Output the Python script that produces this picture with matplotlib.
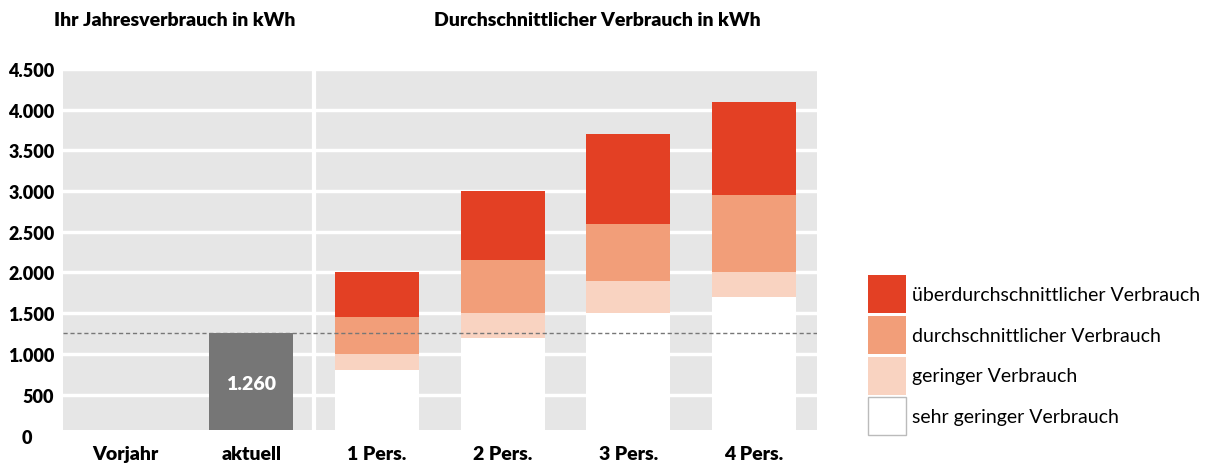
import numpy as np
import matplotlib
matplotlib.use("Agg")
import matplotlib.pyplot as plt
from matplotlib.patches import Patch

plt.rcParams['font.family'] = ['Lato', 'DejaVu Sans']

kategorien = ["Vorjahr", "aktuell", "1 Pers.", "2 Pers.", "3 Pers.", "4 Pers."]
ihr_verbrauch = [0, 1260]          # Vorjahr (leer), aktuell
# Obergrenzen der Stufen je Haushaltsgroesse (kumuliert, kWh)
sehr_gering = [800, 1200, 1500, 1700]
gering = [1000, 1500, 1900, 2000]
durchschnitt = [1450, 2150, 2600, 2950]
ueber = [2000, 3000, 3700, 4100]
stufen_namen = ["überdurchschnittlicher Verbrauch", "durchschnittlicher Verbrauch",
                "geringer Verbrauch", "sehr geringer Verbrauch"]
yticks = [500, 1000, 1500, 2000, 2500, 3000, 3500, 4000, 4500]

rot = "#E34024"
orange = "#F29E79"
hell = "#F9D3C1"
weiss = "#FFFFFF"
grau = "#767676"
fett = 800

fig = plt.figure(figsize=(12.06, 4.64), dpi=100)
ax = fig.add_axes([62.7/1206, 1-431/464, (817-62.7)/1206, (431-70)/464])
ax.set_facecolor("#E6E6E6")

x = np.arange(len(kategorien))
b = 0.667

# eigener Verbrauch
ax.bar(x[:2], ihr_verbrauch, width=b, color=grau, zorder=3)
ax.text(x[1], ihr_verbrauch[1]/2, "1.260", color="white", fontsize=14,
        fontweight=fett, ha="center", va="center", zorder=4)

# Vergleichswerte
xp = x[2:]
ax.bar(xp, sehr_gering, width=b, color=weiss, zorder=3)
ax.bar(xp, np.subtract(gering, sehr_gering), bottom=sehr_gering, width=b, color=hell, zorder=3)
ax.bar(xp, np.subtract(durchschnitt, gering), bottom=gering, width=b, color=orange, zorder=3)
ax.bar(xp, np.subtract(ueber, durchschnitt), bottom=durchschnitt, width=b, color=rot, zorder=3)

ax.axhline(ihr_verbrauch[1], color="#777777", lw=1, ls=(0, (3, 2)), zorder=5)
ax.axvline(1.5, color="white", lw=3, zorder=2)

ax.set_xlim(-0.5, 5.5)
ax.set_ylim(64, 4500)
ax.set_yticks(yticks)
ax.set_yticklabels([f"{v:,}".replace(",", ".") for v in yticks], fontsize=13, fontweight=fett)
ax.text(-0.04, -30, "0", transform=ax.get_yaxis_transform(), ha="right", va="center",
        fontsize=13, fontweight=fett, clip_on=False)
ax.set_xticks(x)
ax.set_xticklabels(kategorien, fontsize=14, fontweight=fett)
ax.tick_params(length=0, pad=6)
ax.tick_params(axis="x", pad=11)
ax.grid(axis="y", color="white", lw=2.5, zorder=1)
ax.set_axisbelow(True)
for s in ax.spines.values():
    s.set_visible(False)

fig.text(175/1206, 1-21/464, "Ihr Jahresverbrauch in kWh", ha="center", va="center",
         fontsize=14, fontweight=fett)
fig.text(597/1206, 1-21/464, "Durchschnittlicher Verbrauch in kWh", ha="center", va="center",
         fontsize=14, fontweight=fett)

handles = [Patch(facecolor=rot), Patch(facecolor=orange), Patch(facecolor=hell),
           Patch(facecolor=weiss, edgecolor="#BBBBBB", linewidth=1)]
fig.legend(handles, stufen_namen, loc="upper left", bbox_to_anchor=(858/1206, 1-266/464),
           frameon=False, fontsize=14, handlelength=1.95, handleheight=2.63,
           labelspacing=0.15, handletextpad=0.31, borderpad=0)

plt.savefig("out.png", dpi=100)
